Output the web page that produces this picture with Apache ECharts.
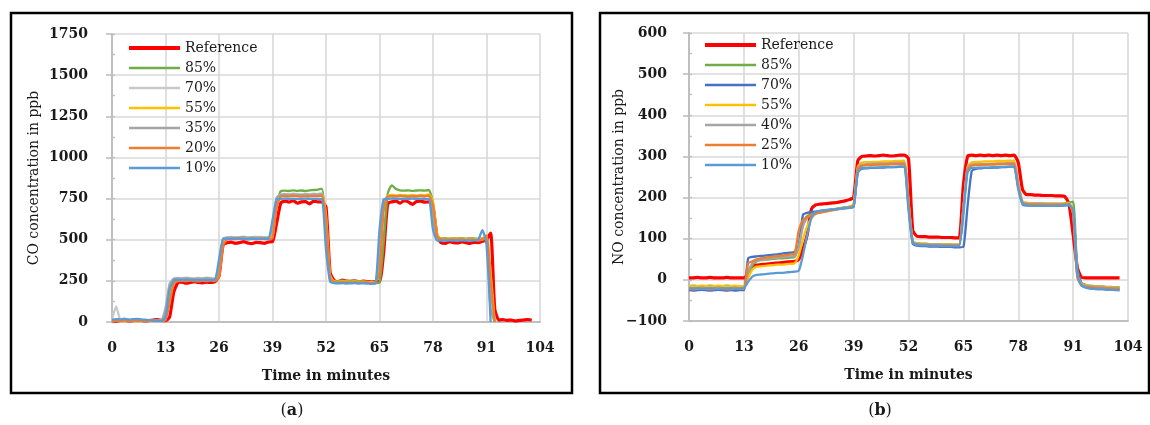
<!DOCTYPE html>
<html>
<head>
<meta charset="utf-8">
<script src="https://cdn.jsdelivr.net/npm/echarts@6/dist/echarts.min.js"></script>
<style>
  html, body { margin: 0; padding: 0; background: #ffffff; }
  #wrap { position: relative; width: 1150px; height: 425px; }
  #co { position: absolute; left: 0; top: 0; width: 586px; height: 425px; }
  #no { position: absolute; left: 586px; top: 0; width: 564px; height: 425px; }
</style>
</head>
<body>
<div id="wrap"><div id="co"></div><div id="no"></div></div>
<script>
// Sampling times (minutes)
const minutes = [0,1,2,3,4,5,6,7,8,9,10,11,12,13,14,15,16,17,18,19,20,21,22,23,24,25,
  26,27,28,29,30,31,32,33,34,35,36,37,38,39,40,41,42,43,44,45,46,47,48,49,50,51,
  52,53,54,55,56,57,58,59,60,61,62,63,64,65,66,67,68,69,70,71,72,73,74,75,76,77,
  78,79,80,81,82,83,84,85,86,87,88,89,90,91,92,93,94,95,96,97,98,99,100,101,102];

const timeTicks = [0, 13, 26, 39, 52, 65, 78, 91, 104];

// ---- (a) CO concentration, ppb ----
const coNames = ['Reference', '85%', '70%', '55%', '35%', '20%', '10%'];
const coColors = ['#ff0000', '#70ad47', '#c9c9c9', '#ffc000', '#a5a5a5', '#ed7d31', '#5b9bd5'];

const coRef = [8,5,10,12,6,8,14,10,6,9,12,15,10,
  8,30,180,238,242,236,240,245,240,238,242,240,244,
  280,470,482,485,478,482,488,480,476,484,482,478,486,
  488,600,722,735,728,738,722,730,732,718,735,730,728,
  700,300,252,245,255,248,246,250,244,248,246,243,245,
  245,420,720,730,735,722,738,730,715,732,735,728,730,
  700,520,482,478,488,482,480,486,482,478,484,482,490,
  500,540,80,12,14,10,12,6,10,12,14,12];
const co85 = [10,8,12,10,14,9,11,8,12,10,9,12,10,
  30,180,252,258,256,260,258,255,259,257,260,256,258,
  330,500,512,515,513,516,514,512,515,517,513,514,516,
  520,720,795,798,796,800,797,799,796,800,802,805,810,
  560,270,248,250,252,249,251,250,248,246,244,240,236,
  240,480,780,830,808,800,798,800,797,799,800,798,802,
  720,525,508,510,507,509,508,510,507,509,508,506,508,
  510,200,0];
const co70 = [15,95,15,12,10,14,12,10,13,11,12,10,12,
  90,235,265,268,266,270,267,265,268,266,269,267,265,
  350,508,515,517,514,516,518,515,513,516,517,515,514,
  590,755,775,778,776,780,778,776,779,777,780,778,782,
  540,258,242,240,243,241,240,242,239,241,240,238,240,
  430,735,762,765,763,766,764,762,765,763,766,764,770,
  630,505,500,502,499,501,500,502,499,501,500,498,502,
  515,90,0];
const co55 = [5,8,6,7,5,8,6,7,5,8,6,7,6,
  15,140,242,252,255,253,256,254,252,255,253,256,254,
  290,478,505,508,506,509,507,505,508,506,509,507,508,
  520,715,765,770,768,772,770,768,771,769,772,770,775,
  650,285,246,244,246,245,244,246,243,245,244,242,244,
  320,700,768,772,770,773,771,769,772,770,773,771,775,
  730,535,506,505,507,506,505,507,504,506,505,503,506,
  530,300,0];
const co35 = [10,12,10,8,11,9,12,10,8,11,9,10,11,
  75,225,262,265,263,266,264,262,265,263,266,264,262,
  330,505,512,514,511,513,515,512,510,513,514,512,511,
  570,755,772,775,773,776,774,772,775,773,776,774,778,
  560,256,240,238,241,239,238,240,237,239,238,236,238,
  415,728,762,765,763,766,764,762,765,763,766,764,768,
  640,506,500,502,499,501,500,502,499,501,500,498,501,
  508,80,0];
const co20 = [6,9,7,8,6,9,7,8,6,9,7,8,7,
  12,115,232,248,250,248,251,249,247,250,248,251,249,
  270,465,502,505,503,506,504,502,505,503,506,504,503,
  510,695,762,765,763,766,764,762,765,763,766,764,768,
  630,268,242,240,242,241,240,242,239,241,240,238,240,
  300,675,762,765,763,766,764,762,765,763,766,764,768,
  710,522,502,500,502,501,500,502,499,501,500,498,502,
  522,250,0];
const co10 = [14,18,16,20,15,17,19,16,14,12,10,8,6,
  30,200,252,258,256,257,255,256,254,255,256,254,255,
  380,505,506,505,507,506,505,504,506,505,504,506,505,
  620,745,748,750,748,749,747,748,750,748,749,747,748,
  440,245,236,235,236,234,235,236,234,235,234,232,233,
  560,745,748,750,748,749,747,748,750,748,749,747,748,
  560,496,495,494,496,495,494,496,495,494,496,500,558,
  470,0];

// ---- (b) NO concentration, ppb ----
const noNames = ['Reference', '85%', '70%', '55%', '40%', '25%', '10%'];
const noColors = ['#ff0000', '#70ad47', '#4472c4', '#ffc000', '#a5a5a5', '#ed7d31', '#5b9bd5'];

const noRef = [5,5,6,5,5,6,5,5,5,6,5,5,5,
  5,15,33,36,37,38,39,40,41,42,43,44,45,
  50,75,110,172,182,184,185,186,187,188,190,192,195,
  200,290,300,301,302,301,302,303,302,301,302,303,303,
  295,120,106,105,105,104,104,104,103,103,103,102,102,
  230,300,303,302,303,302,303,302,303,302,303,302,303,
  285,220,207,207,206,206,205,205,205,204,204,203,185,
  110,30,6,5,5,5,5,5,5,5,5,5];
const no85 = [-15,-14,-15,-16,-15,-14,-15,-16,-15,-14,-15,-16,-15,
  -15,10,35,45,48,49,50,51,52,52,53,54,55,
  80,140,155,160,163,165,167,169,171,173,175,176,178,
  180,268,278,279,280,280,281,281,281,282,282,282,283,
  190,93,89,88,88,87,87,87,86,86,86,85,85,
  175,270,279,280,280,281,281,281,282,282,282,283,283,
  230,190,187,186,186,186,185,185,185,185,185,186,188,
  190,25,-8,-12,-14,-15,-16,-16,-17,-17,-18,-18];
const no70 = [-25,-26,-25,-24,-25,-26,-25,-24,-25,-26,-25,-26,-25,
  -25,52,56,57,58,59,60,61,62,64,65,66,68,
  85,158,163,165,166,167,169,170,171,172,174,175,176,
  178,262,270,271,272,272,273,273,274,274,274,275,275,
  180,88,83,82,82,81,81,81,80,80,80,79,79,
  80,180,265,270,271,272,272,273,273,274,274,275,275,
  225,184,181,181,180,180,180,180,180,180,181,181,182,
  170,25,-10,-18,-20,-21,-22,-22,-23,-24,-24,-25];
const no55 = [-15,-16,-15,-14,-15,-16,-15,-14,-15,-16,-15,-14,-15,
  -15,5,25,32,33,34,35,36,37,37,38,39,40,
  60,100,130,150,160,165,167,169,171,172,174,175,177,
  185,275,285,286,286,287,287,288,288,288,289,289,290,
  190,93,89,88,88,87,87,87,86,86,86,86,86,
  170,275,286,287,287,288,288,288,289,289,289,290,290,
  235,190,187,186,186,185,185,185,185,185,185,185,186,
  170,12,-10,-13,-15,-16,-17,-17,-18,-18,-19,-19];
const no40 = [-20,-21,-20,-19,-20,-21,-20,-19,-20,-21,-20,-19,-20,
  -20,20,40,47,49,50,52,53,54,55,56,57,58,
  80,130,150,158,162,164,166,168,170,172,173,175,176,
  180,272,280,281,282,282,283,283,283,284,284,284,285,
  185,92,88,87,87,86,86,86,85,85,85,85,85,
  175,272,280,281,281,282,282,282,283,283,283,284,284,
  232,188,186,185,185,185,185,184,184,184,184,184,185,
  165,8,-10,-14,-16,-17,-18,-18,-19,-19,-20,-20];
const no25 = [-22,-23,-22,-21,-22,-23,-22,-21,-22,-23,-22,-21,-22,
  -22,40,45,50,52,54,55,57,58,59,60,62,63,
  120,145,152,158,161,163,165,167,169,171,173,174,176,
  180,270,278,279,279,280,280,281,281,281,282,282,282,
  190,90,86,85,85,85,84,84,84,84,84,84,84,
  170,268,278,279,279,280,280,281,281,281,282,282,282,
  225,186,184,183,183,183,183,182,182,182,182,183,184,
  160,6,-14,-17,-18,-19,-20,-20,-21,-21,-22,-22];
const no10 = [-20,-21,-20,-22,-21,-20,-21,-22,-20,-21,-20,-22,-21,
  -20,-5,8,12,13,14,15,16,17,17,18,19,20,
  22,60,110,150,165,168,169,170,171,172,173,174,175,
  178,260,272,272,273,273,273,274,274,274,275,275,275,
  170,90,85,84,84,83,83,83,82,82,82,82,82,
  160,262,272,272,273,273,273,274,274,274,275,275,275,
  220,185,181,180,180,180,180,180,180,180,180,181,182,
  170,12,-14,-19,-21,-22,-23,-23,-24,-24,-25,-25];

const FONT = 'DejaVu Serif';
const TEXT = '#1a1a1a';
const GRID = '#d9d9d9';
const AXIS = '#bfbfbf';

function pairs(values) {
  return values.map((v, i) => [minutes[i], v]);
}

// plain numbers, typographic minus for negatives
function tickText(v) {
  return v < 0 ? '\u2212' + Math.abs(v) : String(v);
}

function buildOption(cfg) {
  const widths = cfg.names.map((n, i) => (i === 0 ? 3.2 : 2.3));
  const series = cfg.values.map((vals, i) => ({
    name: cfg.names[i],
    type: 'line',
    data: pairs(vals),
    showSymbol: false,
    symbol: 'none',
    smooth: 0.2,
    clip: true,
    color: cfg.colors[i],
    lineStyle: { color: cfg.colors[i], width: widths[i] },
    emphasis: { disabled: true },
    z: 2 + i
  }));
  return {
    animation: false,
    backgroundColor: '#ffffff',
    grid: { left: cfg.grid.left, right: cfg.grid.right, top: cfg.grid.top, bottom: cfg.grid.bottom },
    xAxis: {
      type: 'value', min: 0, max: 104, interval: 13,
      name: 'Time in minutes', nameLocation: 'middle', nameGap: 47, nameMoveOverlap: false,
      nameTextStyle: { fontFamily: FONT, fontSize: 14, fontWeight: 'bold', color: TEXT },
      axisLine: { onZero: false, lineStyle: { color: AXIS, width: 2 } },
      axisTick: { show: false },
      axisLabel: { margin: 19, fontFamily: FONT, fontSize: 14, fontWeight: 'bold', color: TEXT, formatter: tickText },
      splitLine: { show: true, lineStyle: { color: GRID, width: 1.6 } }
    },
    yAxis: [{
      type: 'value', min: cfg.y.min, max: cfg.y.max, interval: cfg.y.step,
      name: cfg.yName, nameLocation: 'middle', nameRotate: 90, nameGap: cfg.y.nameGap,
      nameMoveOverlap: false,
      nameTextStyle: { fontFamily: FONT, fontSize: 14, color: TEXT },
      axisLine: { show: true, lineStyle: { color: AXIS, width: 2 } },
      axisTick: { show: true, length: 6, lineStyle: { color: AXIS, width: 1.6 } },
      axisLabel: { margin: cfg.y.labelMargin, fontFamily: FONT, fontSize: 14, fontWeight: 'bold', color: TEXT, formatter: tickText },
      splitLine: { show: true, lineStyle: { color: GRID, width: 1.6 } }
    }, {
      // short inner ticks between the major ones
      type: 'value', position: 'left', min: cfg.y.min, max: cfg.y.max, interval: cfg.y.step / 2,
      axisLine: { show: false },
      axisTick: { show: true, inside: true, length: 3, lineStyle: { color: AXIS, width: 1.4 } },
      axisLabel: { show: false },
      splitLine: { show: false }
    }],
    legend: {
      orient: 'vertical', left: cfg.legend.left, top: cfg.legend.top, padding: 0,
      itemWidth: 51, itemHeight: 16, itemGap: 4,
      selectedMode: false,
      itemStyle: { opacity: 0, color: 'rgba(0,0,0,0)', borderWidth: 0 },
      textStyle: { fontFamily: FONT, fontSize: 14, color: TEXT, lineHeight: 16 },
      data: cfg.names.map((n, i) => ({
        name: n,
        lineStyle: { width: i === 0 ? 4 : 2.5 }
      }))
    },
    graphic: [{
      type: 'rect', silent: true, z: 100,
      shape: cfg.box,
      style: { fill: 'none', stroke: '#000000', lineWidth: 2.5 }
    }, {
      type: 'text', silent: true, z: 100,
      x: cfg.caption.x, y: cfg.caption.y,
      style: {
        text: '({b|' + cfg.caption.letter + '})',
        font: '16px "' + FONT + '"',
        fill: TEXT, align: 'center', verticalAlign: 'middle',
        rich: { b: { fontFamily: FONT, fontSize: 16, fontWeight: 'bold', fill: TEXT } }
      }
    }],
    series: series
  };
}

const coChart = echarts.init(document.getElementById('co'), null, { renderer: 'canvas' });
coChart.setOption(buildOption({
  names: coNames, colors: coColors,
  values: [coRef, co85, co70, co55, co35, co20, co10],
  grid: { left: 112, right: 46, top: 34, bottom: 103 },
  y: { min: 0, max: 1750, step: 250, nameGap: 71, labelMargin: 24 },
  yName: 'CO concentration in ppb',
  legend: { left: 127, top: 40 },
  box: { x: 11, y: 13, width: 561, height: 380 },
  caption: { x: 292, y: 411, letter: 'a' }
}));

const noChart = echarts.init(document.getElementById('no'), null, { renderer: 'canvas' });
noChart.setOption(buildOption({
  names: noNames, colors: noColors,
  values: [noRef, no85, no70, no55, no40, no25, no10],
  grid: { left: 103, right: 22, top: 33, bottom: 104 },
  y: { min: -100, max: 600, step: 100, nameGap: 63, labelMargin: 22 },
  yName: 'NO concentration in ppb',
  legend: { left: 117, top: 37 },
  box: { x: 14, y: 13, width: 549, height: 380 },
  caption: { x: 294, y: 411, letter: 'b' }
}));
</script>
</body>
</html>
